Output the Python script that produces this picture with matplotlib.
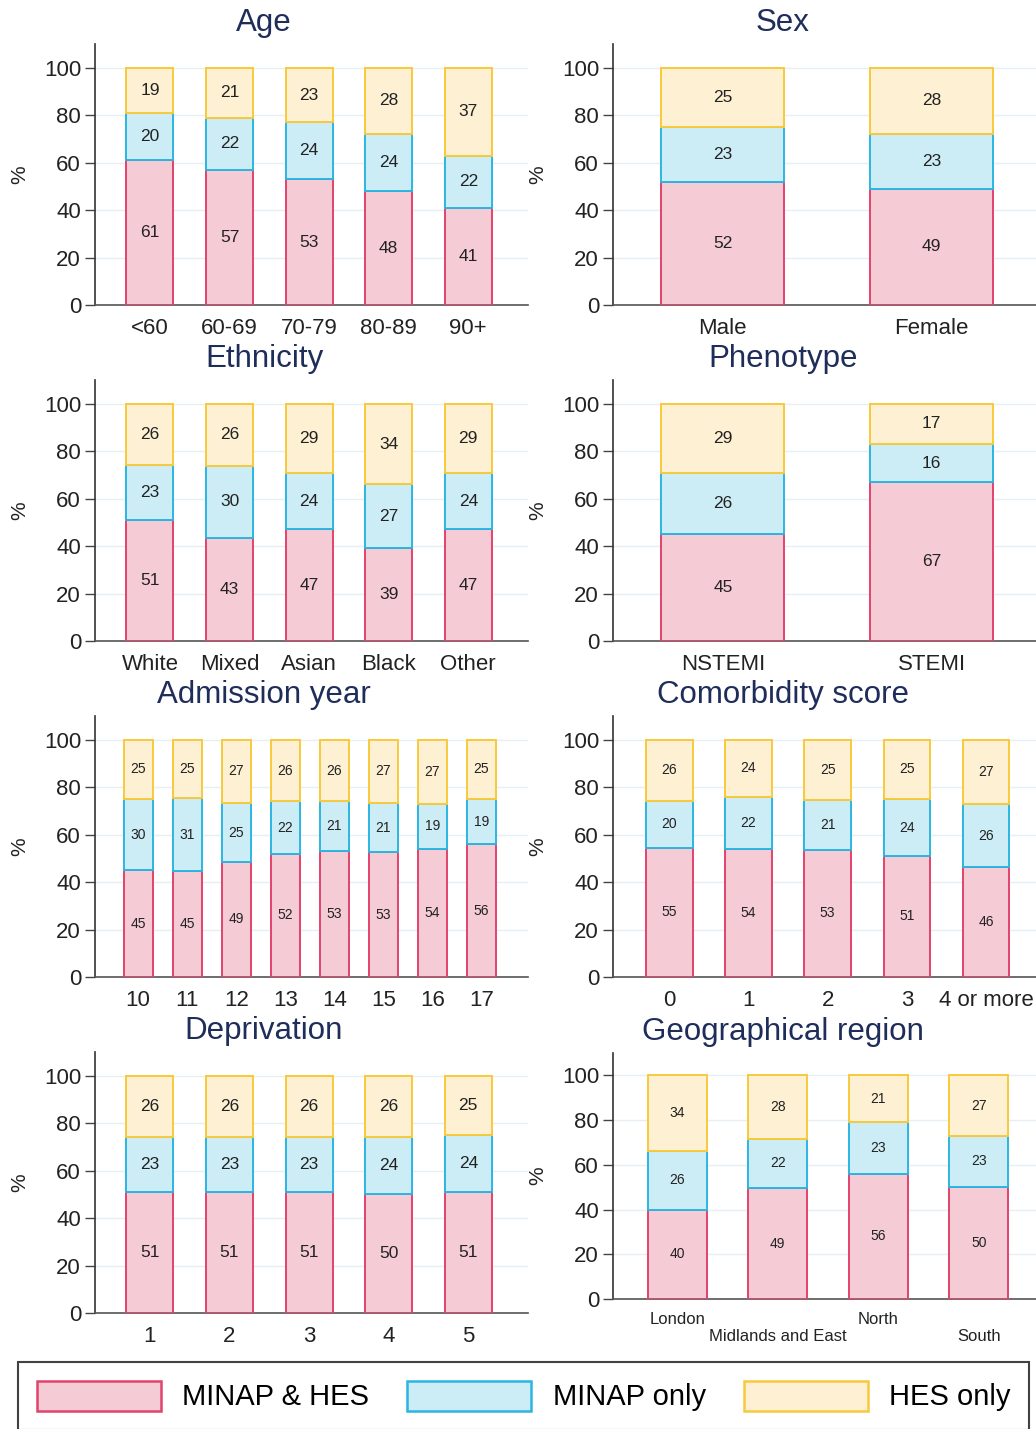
import numpy as np
import matplotlib.pyplot as plt
from matplotlib.patches import Patch

plt.rcParams["font.family"] = ["Liberation Sans", "DejaVu Sans"]

# ---------------------------------------------------------------
# Data (percent of records in each linkage group)
age_cats = ["<60", "60-69", "70-79", "80-89", "90+"]
age_both = [61, 57, 53, 48, 41]
age_minap = [20, 22, 24, 24, 22]
age_hes = [19, 21, 23, 28, 37]

sex_cats = ["Male", "Female"]
sex_both = [52, 49]
sex_minap = [23, 23]
sex_hes = [25, 28]

eth_cats = ["White", "Mixed", "Asian", "Black", "Other"]
eth_both = [51, 43, 47, 39, 47]
eth_minap = [23, 30, 24, 27, 24]
eth_hes = [26, 26, 29, 34, 29]

phen_cats = ["NSTEMI", "STEMI"]
phen_both = [45, 67]
phen_minap = [26, 16]
phen_hes = [29, 17]

year_cats = ["10", "11", "12", "13", "14", "15", "16", "17"]
year_both = [45, 45, 49, 52, 53, 53, 54, 56]
year_minap = [30, 31, 25, 22, 21, 21, 19, 19]
year_hes = [25, 25, 27, 26, 26, 27, 27, 25]

com_cats = ["0", "1", "2", "3", "4 or more"]
com_both = [55, 54, 53, 51, 46]
com_minap = [20, 22, 21, 24, 26]
com_hes = [26, 24, 25, 25, 27]

dep_cats = ["1", "2", "3", "4", "5"]
dep_both = [51, 51, 51, 50, 51]
dep_minap = [23, 23, 23, 24, 24]
dep_hes = [26, 26, 26, 26, 25]

geo_cats = ["London", "\nMidlands and East", "North", "\nSouth"]
geo_both = [40, 49, 56, 50]
geo_minap = [26, 22, 23, 23]
geo_hes = [34, 28, 21, 27]

series_names = ["MINAP & HES", "MINAP only", "HES only"]
face_cols = ["#f5cbd6", "#cdedf6", "#fdf0d3"]
edge_cols = ["#e2436c", "#2bb5e2", "#f8c93c"]

# ---------------------------------------------------------------
W, H = 1036, 1429
fig = plt.figure(figsize=(W / 100, H / 100), dpi=100)


def px_axes(x0, x1, top, bottom):
    return fig.add_axes([x0 / W, 1 - bottom / H, (x1 - x0) / W, (bottom - top) / H])


# title, cats, values, x-range (px), rows (top, bottom px), xlim, label size, tick size, title x
panels = [
    ("Age", age_cats, (age_both, age_minap, age_hes), (95, 528), (44, 305), (-0.69, 4.75), 12.5, 16, 264),
    ("Sex", sex_cats, (sex_both, sex_minap, sex_hes), (613, 1036), (44, 305), (-0.526, 1.5), 12.5, 16, 783),
    ("Ethnicity", eth_cats, (eth_both, eth_minap, eth_hes), (95, 528), (380, 641), (-0.69, 4.75), 12.5, 16, 264),
    ("Phenotype", phen_cats, (phen_both, phen_minap, phen_hes), (613, 1036), (380, 641), (-0.526, 1.5), 12.5, 16, 783),
    ("Admission year", year_cats, (year_both, year_minap, year_hes), (95, 528), (716, 977), (-0.88, 7.95), 10, 16, 264),
    ("Comorbidity score", com_cats, (com_both, com_minap, com_hes), (613, 1036), (716, 977), (-0.71, 4.63), 10, 16, 783),
    ("Deprivation", dep_cats, (dep_both, dep_minap, dep_hes), (95, 528), (1052, 1313), (-0.69, 4.75), 12.5, 16, 264),
    ("Geographical region", geo_cats, (geo_both, geo_minap, geo_hes), (613, 1036), (1053, 1299), (-0.64, 3.57), 10, 12, 783),
]

for title, cats, vals, (x0, x1), (top, bottom), xlim, lab_fs, tick_fs, title_x in panels:
    ax = px_axes(x0, x1, top, bottom)
    x = np.arange(len(cats))
    arr = np.array(vals, dtype=float)
    # 100% stacked: rescale rounded values so each bar reaches 100
    heights = arr / arr.sum(axis=0) * 100
    base = np.zeros(len(cats))
    for k in range(3):
        ax.bar(x, heights[k], bottom=base, width=0.59, color=face_cols[k],
               edgecolor=edge_cols[k], linewidth=1.4, zorder=3)
        for i in range(len(cats)):
            ax.text(x[i], base[i] + heights[k][i] / 2, f"{int(arr[k][i])}",
                    ha="center", va="center", fontsize=lab_fs, color="#222222", zorder=4)
        base = base + heights[k]

    ax.set_xlim(*xlim)
    ax.set_ylim(0, 110)
    ax.set_yticks([0, 20, 40, 60, 80, 100])
    ax.set_xticks(x)
    ax.set_xticklabels(cats)
    ax.tick_params(axis="x", length=0, pad=9, labelsize=tick_fs, colors="#222222")
    ax.tick_params(axis="y", length=7, width=1, pad=3, labelsize=16, colors="#222222",
                   color="#444444")
    ax.grid(axis="y", color="#e6eff3", linewidth=1, zorder=0)
    ax.set_axisbelow(True)
    for s in ["top", "right"]:
        ax.spines[s].set_visible(False)
    ax.spines["left"].set_color("#333333")
    ax.spines["bottom"].set_color("#555555")
    ax.spines["left"].set_linewidth(1.2)
    ax.spines["bottom"].set_linewidth(1.2)
    ax.set_ylabel("%", fontsize=15, color="#222222")
    ax.yaxis.set_label_coords(-66 / (x1 - x0), 0.5)

    fig.text(title_x / W, 1 - (top - 21) / H, title, ha="center", va="center",
             fontsize=22.5, color="#1f2d5a")

# ---------------------------------------------------------------
# Legend
handles = [Patch(facecolor=face_cols[k], edgecolor=edge_cols[k], linewidth=1.8,
                 label=series_names[k]) for k in range(3)]
leg = fig.legend(handles=handles, loc="upper left", bbox_to_anchor=(18 / W, 1 - 1362 / H),
                 ncol=3, fontsize=21, frameon=True, fancybox=False, handlelength=4.25,
                 handleheight=1.2, handletextpad=0.74, columnspacing=1.3, borderpad=0.64,
                 borderaxespad=0)
leg.get_frame().set_edgecolor("#111111")
leg.get_frame().set_linewidth(1.5)

fig.savefig("out.png", dpi=100)
